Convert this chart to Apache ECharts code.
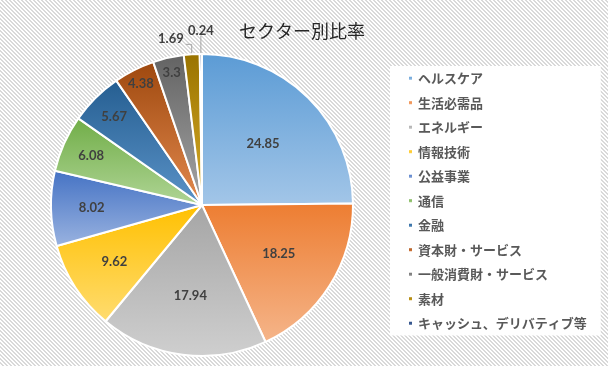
<!DOCTYPE html>
<html><head><meta charset="utf-8">
<script src="https://cdn.jsdelivr.net/npm/echarts@6/dist/echarts.min.js"></script>
<style>
html,body{margin:0;padding:0;}
body{background:repeating-linear-gradient(45deg,#ffffff 0px,#ffffff 1.5px,#d9d9d9 1.5px,#d9d9d9 2.83px);}
#c{width:608px;height:366px;}
</style></head>
<body><div id="c"></div>
<script>
const titleText = 'セクター別比率';
const categories = ['ヘルスケア','生活必需品','エネルギー','情報技術','公益事業','通信','金融','資本財・サービス','一般消費財・サービス','素材','キャッシュ、デリバティブ等'];
const values = [24.85,18.25,17.94,9.62,8.02,6.08,5.67,4.38,3.3,1.69,0.24];
const outsideLabels = ['素材','キャッシュ、デリバティブ等'];

const darkColors = ['#5b9bd5','#ed7d31','#a5a5a5','#ffc000','#4472c4','#70ad47','#255e91','#9e480e','#636363','#997300','#264478'];
const lightColors = ['#a3c6e8','#f5b58a','#cfcfcf','#ffdc70','#9ab3e0','#b0d596','#5b93c8','#e38a4f','#a6a6a6','#d9ac26','#4c6ea8'];

const CX = 202, CY = 205, R = 151;

const total = values.reduce((a, b) => a + b, 0);
const midAngles = [];
{
  let acc = 0;
  values.forEach(v => { midAngles.push((acc + v / 2) / total * Math.PI * 2); acc += v; });
}

const data = categories.map((name, i) => ({
  name: name,
  value: values[i],
  itemStyle: {
    color: {type:'linear', x:0, y:0, x2:0, y2:1,
      colorStops:[{offset:0,color:darkColors[i]},{offset:1,color:lightColors[i]}]}
  },
  label: outsideLabels.includes(name) ? {position:'outside'} : {position:'inside'},
  labelLine: {show: outsideLabels.includes(name)}
}));

const chart = echarts.init(document.getElementById('c'), null, {renderer:'canvas'});
chart.setOption({
  backgroundColor: 'transparent',
  animation: false,
  title: {
    text: titleText, left: 234, top: 17,
    textStyle: {fontFamily:'Noto Sans CJK JP', fontSize:18, fontWeight:'normal', color:'#262626'}
  },
  legend: {
    orient: 'vertical', left: 390, top: 66,
    backgroundColor: '#ffffff',
    padding: [5, 14, 5, 17],
    itemWidth: 5, itemHeight: 5, itemGap: 10,
    icon: 'rect',
    data: categories,
    textStyle: {fontFamily:'Noto Sans CJK JP', fontSize:13, fontWeight:'bold', color:'#595959', lineHeight:14.5}
  },
  series: [{
    type: 'pie',
    center: [CX, CY],
    radius: R,
    startAngle: 90,
    clockwise: true,
    avoidLabelOverlap: false,
    data: data,
    itemStyle: {borderColor:'#ffffff', borderWidth:2},
    label: {
      show: true,
      formatter: '{c}',
      fontFamily: 'Lato',
      fontWeight: 'bold',
      fontSize: 13,
      color: '#404040'
    },
    labelLine: {length: 10, length2: 5, lineStyle:{color:'#a6a6a6', width:1}},
    labelLayout: function (p) {
      const name = categories[p.dataIndex];
      const oi = outsideLabels.indexOf(name);
      if (oi >= 0) {
        const e = p.labelLinePoints[0];
        if (oi === 0) {
          const cy = e[1] - 10, cx2 = e[0] - 6;
          return {
            labelLinePoints: [e, [e[0], cy], [cx2, cy]],
            x: cx2 - 2, y: cy + 1, align: 'right', verticalAlign: 'bottom'
          };
        } else {
          const top = e[1] - 18;
          return {
            labelLinePoints: [e, [e[0], top], [e[0], top]],
            x: e[0], y: top + 1, align: 'center', verticalAlign: 'bottom'
          };
        }
      }
      const v = values[p.dataIndex];
      const ratio = 0.5 + Math.min(0.40, 1.85 / v);
      const a = midAngles[p.dataIndex];
      return {
        x: CX + Math.sin(a) * R * ratio,
        y: CY - Math.cos(a) * R * ratio,
        align: 'center', verticalAlign: 'middle'
      };
    }
  }]
});
</script></body></html>
